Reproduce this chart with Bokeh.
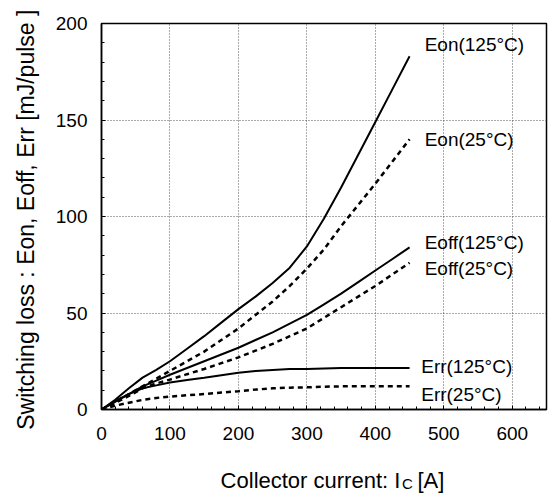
from bokeh.plotting import figure
from bokeh.layouts import column
from bokeh.models import Range1d, SingleIntervalTicker, ColumnDataSource
from bokeh.core.properties import value
from bokeh.embed import file_html
from bokeh.resources import INLINE

# Collector current [A]
current = [0, 20, 40, 60, 80, 100, 125, 150, 175, 200, 225, 250, 275, 300,
           325, 350, 375, 400, 425, 450]

# Switching losses [mJ/pulse]
eon_125 = [0, 5, 11, 16.5, 20.5, 25, 31.5, 38, 45, 52, 58.5, 65.5, 73.5, 84.5,
           99, 115, 132, 149, 166, 183]
eon_25 = [0, 4, 8, 12, 16, 20, 25, 30, 36, 42, 49, 56, 64, 73,
          83, 95, 106, 117, 128.5, 140]
eoff_125 = [0, 4, 8, 12, 15, 18, 21.5, 25, 28.5, 32, 36, 40, 44.5, 49,
            54.5, 60, 66, 72, 78, 84]
eoff_25 = [0, 3.5, 7, 11, 13.5, 15.5, 18.3, 21, 24, 27, 30.5, 34, 38, 42,
           47.5, 53, 58.5, 64, 70, 76]
err_125 = [0, 4.5, 8, 11, 12.5, 14, 15.3, 16.5, 17.8, 19, 20, 20.5, 21, 21,
           21.3, 21.5, 21.5, 21.5, 21.5, 21.5]
err_25 = [0, 2, 3.5, 5, 6, 6.7, 7.4, 8, 8.8, 9.5, 10.3, 11, 11.3, 11.5,
          11.8, 12, 12, 12, 12, 12]

curve_labels = ["Eon(125°C)", "Eon(25°C)", "Eoff(125°C)", "Eoff(25°C)", "Err(125°C)", "Err(25°C)"]
label_x = [472, 472, 472, 472, 467, 467]
label_y = [189, 140, 86.5, 73, 22.4, 7.6]

x_title_parts = ["Collector current: I", "C", "[A]"]

FONT = "Liberation Sans"

p = figure(frame_width=445, frame_height=386,
           min_border_left=101, min_border_right=2,
           min_border_top=23, min_border_bottom=46,
           x_range=Range1d(0, 650), y_range=Range1d(0, 200),
           output_backend="svg", toolbar_location=None)
p.background_fill_color = "white"
p.border_fill_color = "white"
p.outline_line_color = "black"
p.outline_line_width = 1.5

p.xaxis.ticker = SingleIntervalTicker(interval=100, num_minor_ticks=5)
p.yaxis.ticker = SingleIntervalTicker(interval=50, num_minor_ticks=5)

for ax in (p.xaxis[0], p.yaxis[0]):
    ax.axis_line_color = "black"
    ax.axis_line_width = 1.5
    ax.major_tick_in = 4
    ax.major_tick_out = 0
    ax.minor_tick_in = 3
    ax.minor_tick_out = 0
    ax.major_tick_line_color = "black"
    ax.minor_tick_line_color = "black"
    ax.major_label_text_font = FONT
    ax.major_label_text_font_size = "19px"
    ax.major_label_text_color = "black"

p.xaxis.major_label_standoff = 17
p.yaxis.major_label_standoff = 14

p.yaxis.axis_label = "Switching loss : Eon, Eoff, Err  [mJ/pulse ]"
p.yaxis.axis_label_text_font = FONT
p.yaxis.axis_label_text_font_size = "23px"
p.yaxis.axis_label_text_font_style = "normal"
p.yaxis.axis_label_text_color = "black"
p.yaxis.axis_label_standoff = 14

for g in (p.xgrid[0], p.ygrid[0]):
    g.grid_line_color = "#555555"
    g.grid_line_dash = "1 2"
    g.grid_line_width = 1

solid = dict(line_color="black", line_width=2)
dashed = dict(line_color="black", line_width=2.5, line_dash="5 4")

p.line(current, eon_125, **solid)
p.line(current, eon_25, **dashed)
p.line(current, eoff_125, **solid)
p.line(current, eoff_25, **dashed)
p.line(current, err_125, **solid)
p.line(current, err_25, **dashed)

src = ColumnDataSource(dict(x=label_x, y=label_y, t=curve_labels))
p.text(x="x", y="y", text="t", source=src, text_font=value(FONT),
       text_font_size="19px", text_baseline="middle", text_align="left",
       text_color="black")

# x axis title (with subscript) in a thin strip below the chart,
# whose frame lines up with the chart's frame (same x range)
strip = figure(width=548, height=40, x_range=Range1d(0, 650), y_range=Range1d(0, 40),
               x_axis_type=None, y_axis_type=None,
               min_border_left=101, min_border_right=2,
               min_border_top=0, min_border_bottom=0,
               output_backend="svg", toolbar_location=None)
strip.outline_line_color = None
strip.grid.visible = False
strip.background_fill_color = "white"
strip.border_fill_color = "white"
strip.text(x=[174], y=[15], text=[x_title_parts[0]], text_font=value(FONT),
           text_font_size="22px", text_baseline="alphabetic", text_align="left",
           text_color="black")
strip.text(x=[439], y=[12.5], text=[x_title_parts[1]], text_font=value(FONT),
           text_font_size="15px", text_baseline="alphabetic", text_align="left",
           text_color="black")
strip.text(x=[461.5], y=[15], text=[x_title_parts[2]], text_font=value(FONT),
           text_font_size="22px", text_baseline="alphabetic", text_align="left",
           text_color="black")

layout = column(p, strip, spacing=0)
open("out.html", "w").write(file_html(layout, INLINE))
